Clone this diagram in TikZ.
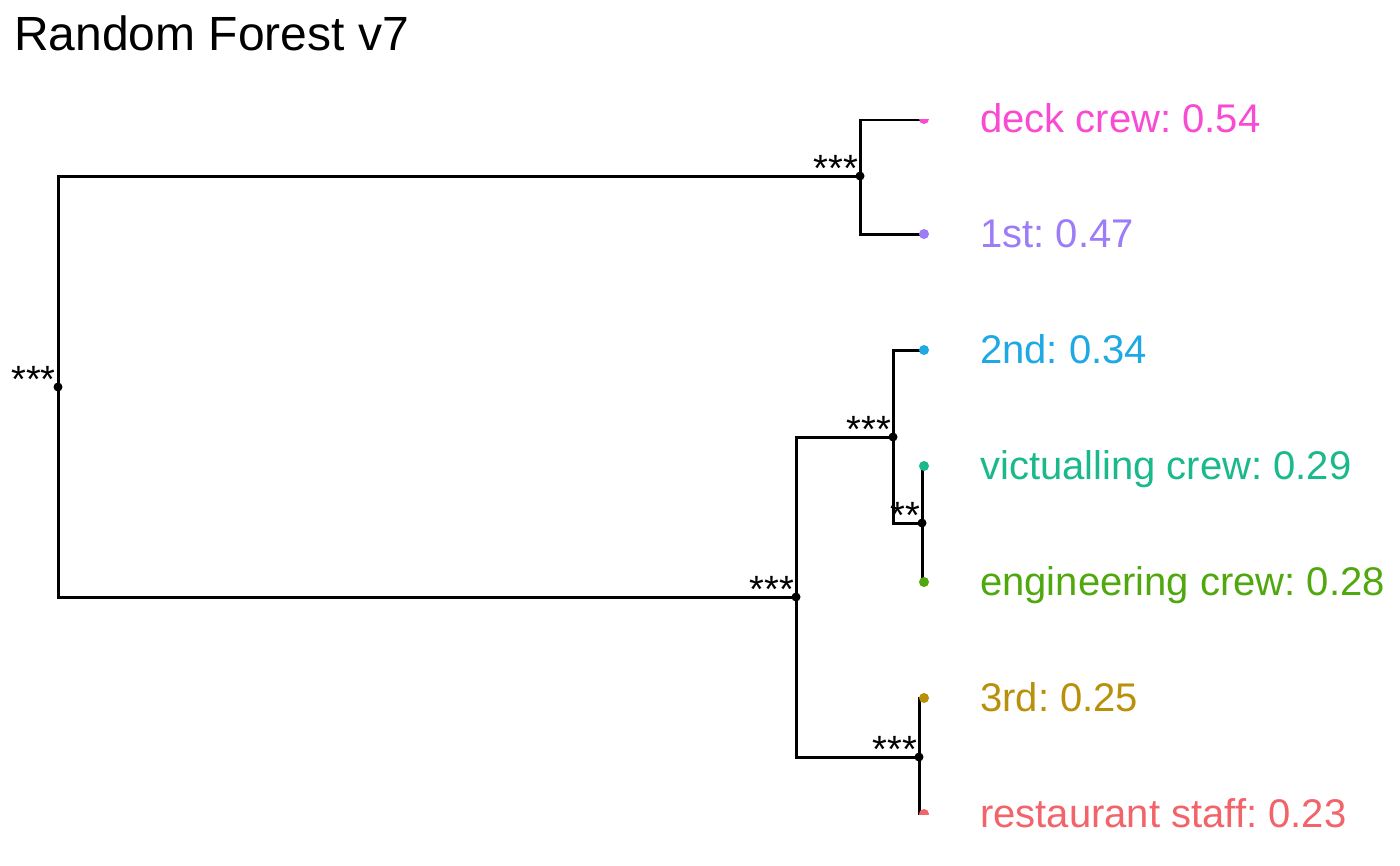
\documentclass[tikz,border=0pt]{standalone}
\usepackage{fontspec}
\setmainfont{Liberation Sans}
\frenchspacing
\definecolor{cdeck}{HTML}{F84AD3}
\definecolor{cfirst}{HTML}{9D7CF8}
\definecolor{csecond}{HTML}{1EA8E4}
\definecolor{cvict}{HTML}{1AB98C}
\definecolor{ceng}{HTML}{50A80E}
\definecolor{cthird}{HTML}{B8900A}
\definecolor{crest}{HTML}{F2636A}
\tikzset{
  edge/.style={line width=3pt, black, line cap=rect},
  inner/.style={circle, fill=black, inner sep=0pt, minimum size=9pt},
  leafdot/.style={circle, fill=#1, inner sep=0pt, minimum size=10pt},
  leaflabel/.style={anchor=base west, inner sep=0pt, text=#1, font=\fontsize{40}{48}\selectfont},
  stars/.style={anchor=base east, inner sep=0pt, font=\fontsize{38}{42}\selectfont},
}
\begin{document}
\begin{tikzpicture}[x=1pt, y=-1pt]
\useasboundingbox[fill=white] (0,0) rectangle (1400,865);
% title
\node[anchor=base west, inner sep=0pt, font=\fontsize{48}{56}\selectfont] (title) at (14,50) {Random Forest v7};
% tree coordinates
\coordinate (root) at (58,387);
\coordinate (A) at (860,176);
\coordinate (B) at (796,597);
\coordinate (C) at (893,437);
\coordinate (D) at (922,523);
\coordinate (E) at (919,757);
\coordinate (L1) at (924,119);
\coordinate (L2) at (924,234);
\coordinate (L3) at (924,350);
\coordinate (L4) at (924,466);
\coordinate (L5) at (924,582);
\coordinate (L6) at (924,698);
\coordinate (L7) at (924,814);
\begin{scope}
\clip (0,119) rectangle (1400,814);
\draw[edge] (root) |- (A);
\draw[edge] (root) |- (B);
\draw[edge] (A) |- (L1);
\draw[edge] (A) |- (L2);
\draw[edge] (B) |- (C);
\draw[edge] (B) |- (E);
\draw[edge] (C) |- (L3);
\draw[edge] (C) |- (D);
\draw[edge] (D) |- (L4);
\draw[edge] (D) |- (L5);
\draw[edge] (E) |- (L6);
\draw[edge] (E) |- (L7);
\node[leafdot=cdeck] (d1) at (L1) {};
\node[leafdot=cfirst] (d2) at (L2) {};
\node[leafdot=csecond] (d3) at (L3) {};
\node[leafdot=cvict] (d4) at (L4) {};
\node[leafdot=ceng] (d5) at (L5) {};
\node[leafdot=cthird] (d6) at (L6) {};
\node[leafdot=crest] (d7) at (L7) {};
\end{scope}
% internal node dots
\node[inner] (nroot) at (root) {};
\node[inner] (nA) at (A) {};
\node[inner] (nB) at (B) {};
\node[inner] (nC) at (C) {};
\node[inner] (nD) at (D) {};
\node[inner] (nE) at (E) {};
% significance stars
\node[stars] (sroot) at ([xshift=-2pt,yshift=-5pt]root) {***};
\node[stars] (sA) at ([xshift=-2pt,yshift=-5pt]A) {***};
\node[stars] (sB) at ([xshift=-2pt,yshift=-5pt]B) {***};
\node[stars] (sC) at ([xshift=-2pt,yshift=-5pt]C) {***};
\node[stars] (sD) at ([xshift=-2pt,yshift=-5pt]D) {**};
\node[stars] (sE) at ([xshift=-2pt,yshift=-5pt]E) {***};
% leaf labels
\node[leaflabel=cdeck] (t1) at ([xshift=56pt,yshift=-13pt]L1) {deck crew: 0.54};
\node[leaflabel=cfirst] (t2) at ([xshift=56pt,yshift=-13pt]L2) {1st: 0.47};
\node[leaflabel=csecond] (t3) at ([xshift=56pt,yshift=-13pt]L3) {2nd: 0.34};
\node[leaflabel=cvict] (t4) at ([xshift=56pt,yshift=-13pt]L4) {victualling crew: 0.29};
\node[leaflabel=ceng] (t5) at ([xshift=56pt,yshift=-13pt]L5) {engineering crew: 0.28};
\node[leaflabel=cthird] (t6) at ([xshift=56pt,yshift=-13pt]L6) {3rd: 0.25};
\node[leaflabel=crest] (t7) at ([xshift=56pt,yshift=-13pt]L7) {restaurant staff: 0.23};
\end{tikzpicture}
\end{document}
